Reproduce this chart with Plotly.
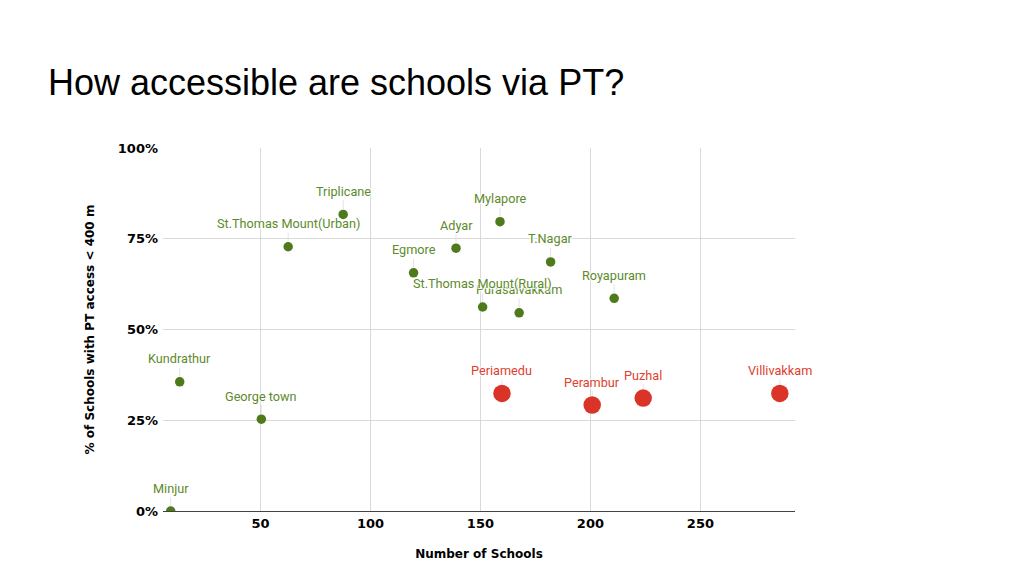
import plotly.graph_objects as go

# Regular areas (green)
green_names = ["Minjur", "Kundrathur", "George town", "St.Thomas Mount(Urban)", "Triplicane",
               "Egmore", "Adyar", "Purasaivakkam", "St.Thomas Mount(Rural)", "Mylapore",
               "T.Nagar", "Royapuram"]
green_schools = [9.2, 13.3, 50.4, 62.6, 87.6, 119.6, 138.9, 167.6, 151.0, 158.9, 181.9, 210.8]
green_pct = [0.0, 0.356, 0.253, 0.728, 0.817, 0.656, 0.724, 0.546, 0.562, 0.797, 0.686, 0.586]

# Low-access areas (red)
red_names = ["Periamedu", "Perambur", "Puzhal", "Villivakkam"]
red_schools = [159.8, 200.8, 224.0, 286.1]
red_pct = [0.324, 0.292, 0.311, 0.324]

GREEN = "#4e7a1c"
GREEN_TXT = "#5d8a2c"
RED = "#d93427"
RED_TXT = "#e0402f"
AXIS_FONT = "DejaVu Sans"
HALO = "1px 1px 1px white, -1px -1px 1px white, 1px -1px 1px white, -1px 1px 1px white"

fig = go.Figure()
fig.add_trace(go.Scatter(x=green_schools, y=green_pct, mode="markers",
                         marker=dict(color=GREEN, size=9.5), cliponaxis=True,
                         showlegend=False, hoverinfo="skip"))
fig.add_trace(go.Scatter(x=red_schools, y=red_pct, mode="markers",
                         marker=dict(color=RED, size=17.5), cliponaxis=True,
                         showlegend=False, hoverinfo="skip"))


def add_labels(names, xs, ys, color, standoff):
    for n, x, y in zip(names, xs, ys):
        fig.add_annotation(x=x, y=y, text=n, showarrow=True, arrowhead=0, ax=0, ay=-23,
                           arrowcolor="#e3e3e3", arrowwidth=1, standoff=standoff,
                           font=dict(family="Roboto", size=12.7, color=color, shadow=HALO))


add_labels(green_names, green_schools, green_pct, GREEN_TXT, 5)
add_labels(red_names, red_schools, red_pct, RED_TXT, 9)

# the page adds an 8px body margin, so the margins are shifted to compensate
fig.update_layout(
    width=1024, height=579,
    margin=dict(l=155, r=237, t=140, b=76),
    paper_bgcolor="white", plot_bgcolor="white",
    title=dict(text="How accessible are schools via PT?", xref="container", yref="container",
               x=0.039, xanchor="left", y=0.871, yanchor="middle",
               font=dict(family="Liberation Sans, Arial", size=36, color="black")),
)
fig.update_xaxes(range=[5.7, 293], dtick=50, tick0=0, showgrid=True, gridcolor="#d9d9d9",
                 zeroline=False, showline=True, linecolor="#444", linewidth=1,
                 tickfont=dict(family=AXIS_FONT, size=13, color="black", weight="bold"),
                 title=dict(text="Number of Schools", standoff=20,
                            font=dict(family=AXIS_FONT, size=12, color="black", weight="bold")))
fig.update_yaxes(range=[0, 1], dtick=0.25, tickformat=".0%", showgrid=True, gridcolor="#d9d9d9",
                 zeroline=False, ticks="", ticklabelstandoff=4,
                 tickfont=dict(family=AXIS_FONT, size=13, color="black", weight="bold"),
                 title=dict(text="% of Schools with PT access < 400 m", standoff=20,
                            font=dict(family=AXIS_FONT, size=12, color="black", weight="bold")))

fig.write_html("out.html")
